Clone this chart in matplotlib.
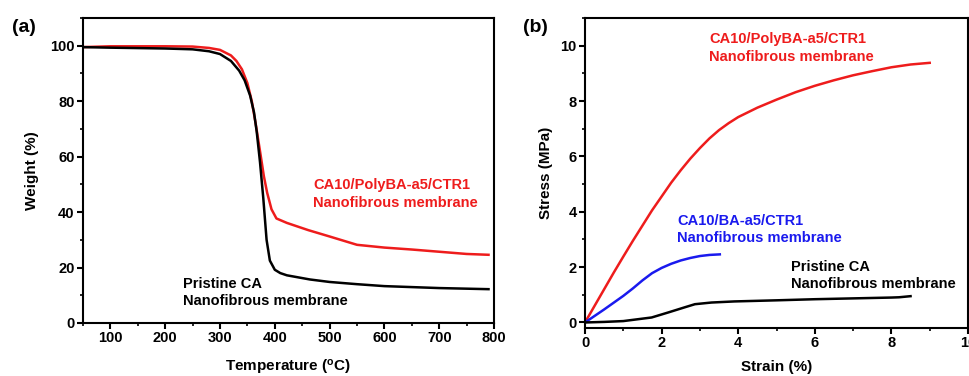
import matplotlib
matplotlib.use("Agg")
import matplotlib.pyplot as plt
from matplotlib.ticker import MultipleLocator

plt.rcParams["font.family"] = ["Liberation Sans", "DejaVu Sans"]
plt.rcParams["font.weight"] = "bold"

# (a) TGA curves
temp_ca = [50, 100, 200, 250, 280, 300, 320, 335, 345, 355, 362, 367, 373, 379, 385,
           391, 400, 410, 422, 464, 500, 550, 600, 700, 790]
wt_ca = [99.5, 99.3, 99.0, 98.7, 98.0, 97.0, 94.5, 91.0, 87.5, 82.0, 76.0, 69.0, 58.0,
         45.0, 30.0, 22.5, 19.2, 18.0, 17.2, 15.7, 14.8, 14.0, 13.3, 12.6, 12.2]

temp_poly = [50, 100, 200, 250, 280, 300, 320, 330, 340, 350, 358, 365, 373, 380, 386,
             394, 403, 422, 461, 500, 550, 600, 650, 700, 750, 790]
wt_poly = [99.5, 99.8, 99.8, 99.7, 99.2, 98.5, 96.5, 94.5, 91.5, 86.5, 80.0, 72.0,
           62.0, 53.0, 47.0, 41.0, 37.7, 36.1, 33.5, 31.2, 28.2, 27.2, 26.5, 25.7,
           24.9, 24.6]

# (b) stress-strain curves
strain_poly = [0, 0.25, 0.5, 0.75, 1.0, 1.25, 1.5, 1.75, 2.0, 2.25, 2.5, 2.75, 3.0,
               3.25, 3.5, 3.75, 4.0, 4.5, 5.0, 5.5, 6.0, 6.5, 7.0, 7.5, 8.0, 8.5, 9.0]
stress_poly = [0, 0.6, 1.2, 1.8, 2.38, 2.95, 3.5, 4.05, 4.55, 5.05, 5.5, 5.92, 6.3,
               6.65, 6.95, 7.2, 7.42, 7.76, 8.05, 8.32, 8.55, 8.75, 8.93, 9.08, 9.22,
               9.32, 9.38]

strain_ba = [0, 0.5, 1.0, 1.25, 1.5, 1.75, 2.0, 2.25, 2.5, 2.75, 3.0, 3.25, 3.52]
stress_ba = [0, 0.47, 0.96, 1.23, 1.52, 1.78, 1.97, 2.12, 2.24, 2.33, 2.4, 2.44, 2.46]

strain_ca = [0, 0.5, 1.0, 1.74, 2.17, 2.61, 2.87, 3.3, 3.9, 5.0, 6.0, 7.0, 8.0, 8.2, 8.5]
stress_ca = [0, 0.02, 0.05, 0.18, 0.36, 0.55, 0.66, 0.72, 0.76, 0.80, 0.84,
             0.87, 0.90, 0.91, 0.95]

fig = plt.figure(figsize=(9.69, 3.76), dpi=100)
ax1 = fig.add_axes([83 / 969, 1 - 323 / 376, 411 / 969, 305 / 376])
ax2 = fig.add_axes([585 / 969, 1 - 328 / 376, 383 / 969, 310 / 376])

for ax in (ax1, ax2):
    for sp in ax.spines.values():
        sp.set_linewidth(1.5)
    ax.tick_params(which="major", direction="out", length=4, width=1.5,
                   labelsize=10.5, pad=2)
    ax.tick_params(which="minor", direction="out", length=2.5, width=1.2)

# panel (a)
ax1.plot(temp_poly, wt_poly, color="#ee1c1c", lw=1.8)
ax1.plot(temp_ca, wt_ca, color="black", lw=1.8)
ax1.set_xlim(50, 800)
ax1.set_ylim(0, 110)
ax1.set_xticks([100, 200, 300, 400, 500, 600, 700, 800])
ax1.xaxis.set_minor_locator(MultipleLocator(50))
ax1.yaxis.set_major_locator(MultipleLocator(20))
ax1.yaxis.set_minor_locator(MultipleLocator(10))
ax1.set_xlabel("Temperature ($\\mathregular{^{o}}$C)", fontsize=11, fontweight="bold",
               labelpad=9)
ax1.set_ylabel("Weight (%)", fontsize=11, fontweight="bold", labelpad=8)
ax1.text(50 + (313 - 83) / 411 * 750, 46.5, "CA10/PolyBA-a5/CTR1\nNanofibrous membrane",
         color="#ee1c1c", fontsize=10.5, fontweight="bold", va="center", linespacing=1.3)
ax1.text(50 + (183 - 83) / 411 * 750, 11.1, "Pristine CA\nNanofibrous membrane",
         color="black", fontsize=10.5, fontweight="bold", va="center", linespacing=1.3)
fig.text(12 / 969, 1 - 27 / 376, "(a)", fontsize=14, fontweight="bold", va="center")

# panel (b)
ax2.plot(strain_poly, stress_poly, color="#ee1c1c", lw=1.8)
ax2.plot(strain_ba, stress_ba, color="#1a1aee", lw=1.8)
ax2.plot(strain_ca, stress_ca, color="black", lw=1.8)
ax2.set_xlim(0, 10)
ax2.set_ylim(-0.2, 11)
ax2.xaxis.set_major_locator(MultipleLocator(2))
ax2.xaxis.set_minor_locator(MultipleLocator(1))
ax2.yaxis.set_major_locator(MultipleLocator(2))
ax2.yaxis.set_minor_locator(MultipleLocator(1))
ax2.set_xlabel("Strain (%)", fontsize=11, fontweight="bold", labelpad=7)
ax2.set_ylabel("Stress (MPa)", fontsize=11, fontweight="bold", labelpad=5)
ax2.text(3.24, 9.92, "CA10/PolyBA-a5/CTR1\nNanofibrous membrane", color="#ee1c1c",
         fontsize=10.5, fontweight="bold", va="center", linespacing=1.3)
ax2.text(2.40, 3.36, "CA10/BA-a5/CTR1\nNanofibrous membrane", color="#1a1aee",
         fontsize=10.5, fontweight="bold", va="center", linespacing=1.3)
ax2.text(5.38, 1.69, "Pristine CA\nNanofibrous membrane", color="black",
         fontsize=10.5, fontweight="bold", va="center", linespacing=1.3)
fig.text(523 / 969, 1 - 27 / 376, "(b)", fontsize=14, fontweight="bold", va="center")

for ax in (ax1, ax2):
    for lab in ax.get_xticklabels() + ax.get_yticklabels():
        lab.set_fontweight("bold")

fig.savefig("out.png", dpi=100)
